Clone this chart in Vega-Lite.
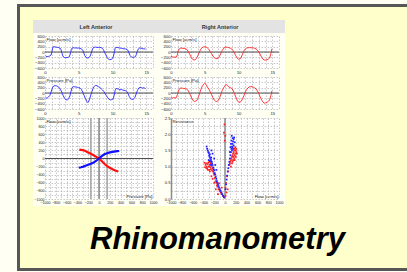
{
"$schema": "https://vega.github.io/schema/vega-lite/v6.json",
"background": "#fffff4",
"padding": {"left": 17, "top": 4, "right": 0, "bottom": 1},
"config": {
  "view": {"stroke": null},
  "concat": {"spacing": 0},
  "axis": {"labelFont": "Liberation Sans", "labelFontSize": 4.2, "labelColor": "#222", "ticks": false, "domain": false, "gridColor": "#b0b0b0", "gridDash": [1.5, 1.5], "gridWidth": 0.7, "labelPadding": 1, "labelOverlap": false, "labelBound": false, "labelFlush": false, "titleFont": "Liberation Sans", "titleFontSize": 4.3, "titleFontWeight": "normal", "titleColor": "#222", "titlePadding": 0},
  "axisX": {"titleAlign": "right", "titleBaseline": "bottom", "titleX": 107, "titleY": -1},
  "axisY": {"titleAngle": 0, "titleAlign": "left", "titleBaseline": "top", "titleX": 1, "titleY": 1}
},
"datasets": {
  "lflow": [{"t":0.1,"v":-150},{"t":0.3,"v":-175},{"t":0.5,"v":-165},{"t":0.7,"v":-150},{"t":0.9,"v":-110},{"t":1.0,"v":-20},{"t":1.1,"v":120},{"t":1.2,"v":190},{"t":1.4,"v":200},{"t":1.6,"v":185},{"t":1.8,"v":175},{"t":2.0,"v":170},{"t":2.2,"v":150},{"t":2.35,"v":100},{"t":2.5,"v":-20},{"t":2.6,"v":-120},{"t":2.75,"v":-190},{"t":2.9,"v":-210},{"t":3.1,"v":-215},{"t":3.3,"v":-205},{"t":3.5,"v":-200},{"t":3.65,"v":-150},{"t":3.8,"v":-20},{"t":3.9,"v":100},{"t":4.0,"v":145},{"t":4.2,"v":160},{"t":4.4,"v":150},{"t":4.6,"v":155},{"t":4.8,"v":145},{"t":5.0,"v":150},{"t":5.2,"v":140},{"t":5.4,"v":120},{"t":5.6,"v":60},{"t":5.75,"v":-40},{"t":5.9,"v":-140},{"t":6.1,"v":-200},{"t":6.3,"v":-225},{"t":6.5,"v":-215},{"t":6.7,"v":-150},{"t":6.85,"v":-40},{"t":7.0,"v":80},{"t":7.15,"v":160},{"t":7.3,"v":180},{"t":7.5,"v":185},{"t":7.7,"v":175},{"t":7.9,"v":170},{"t":8.1,"v":175},{"t":8.3,"v":165},{"t":8.5,"v":140},{"t":8.65,"v":90},{"t":8.8,"v":10},{"t":9.0,"v":-100},{"t":9.2,"v":-200},{"t":9.4,"v":-270},{"t":9.6,"v":-290},{"t":9.8,"v":-280},{"t":10.0,"v":-240},{"t":10.15,"v":-150},{"t":10.3,"v":20},{"t":10.4,"v":140},{"t":10.5,"v":175},{"t":10.7,"v":170},{"t":10.9,"v":160},{"t":11.1,"v":150},{"t":11.3,"v":140},{"t":11.5,"v":130},{"t":11.7,"v":120},{"t":11.9,"v":115},{"t":12.1,"v":100},{"t":12.3,"v":60},{"t":12.45,"v":-40},{"t":12.6,"v":-130},{"t":12.8,"v":-190},{"t":13.0,"v":-200},{"t":13.2,"v":-195},{"t":13.4,"v":-170},{"t":13.55,"v":-80},{"t":13.7,"v":40},{"t":13.85,"v":120},{"t":14.0,"v":145},{"t":14.2,"v":150},{"t":14.4,"v":130},{"t":14.6,"v":120},{"t":14.8,"v":115},{"t":14.9,"v":110}],
  "lpress": [{"t":0.1,"v":-170},{"t":0.3,"v":-200},{"t":0.5,"v":-150},{"t":0.7,"v":-100},{"t":0.85,"v":0},{"t":1.0,"v":120},{"t":1.15,"v":220},{"t":1.3,"v":265},{"t":1.5,"v":275},{"t":1.7,"v":270},{"t":1.9,"v":240},{"t":2.1,"v":200},{"t":2.3,"v":130},{"t":2.5,"v":20},{"t":2.7,"v":-100},{"t":2.9,"v":-200},{"t":3.1,"v":-250},{"t":3.3,"v":-260},{"t":3.5,"v":-220},{"t":3.7,"v":-100},{"t":3.85,"v":60},{"t":4.0,"v":200},{"t":4.2,"v":240},{"t":4.4,"v":230},{"t":4.6,"v":225},{"t":4.8,"v":215},{"t":5.0,"v":200},{"t":5.2,"v":180},{"t":5.4,"v":130},{"t":5.6,"v":30},{"t":5.8,"v":-100},{"t":6.0,"v":-220},{"t":6.2,"v":-320},{"t":6.35,"v":-360},{"t":6.5,"v":-300},{"t":6.7,"v":-150},{"t":6.9,"v":20},{"t":7.1,"v":160},{"t":7.3,"v":250},{"t":7.5,"v":285},{"t":7.7,"v":270},{"t":7.9,"v":240},{"t":8.1,"v":210},{"t":8.3,"v":170},{"t":8.5,"v":120},{"t":8.7,"v":60},{"t":8.9,"v":-20},{"t":9.1,"v":-100},{"t":9.3,"v":-180},{"t":9.5,"v":-240},{"t":9.7,"v":-255},{"t":9.9,"v":-250},{"t":10.1,"v":-220},{"t":10.25,"v":-80},{"t":10.4,"v":100},{"t":10.55,"v":170},{"t":10.7,"v":160},{"t":10.9,"v":150},{"t":11.1,"v":120},{"t":11.3,"v":130},{"t":11.5,"v":110},{"t":11.7,"v":100},{"t":11.9,"v":90},{"t":12.1,"v":60},{"t":12.3,"v":-20},{"t":12.5,"v":-140},{"t":12.7,"v":-220},{"t":12.9,"v":-240},{"t":13.1,"v":-230},{"t":13.3,"v":-180},{"t":13.5,"v":-40},{"t":13.7,"v":100},{"t":13.9,"v":190},{"t":14.1,"v":210},{"t":14.3,"v":200},{"t":14.5,"v":180},{"t":14.7,"v":200},{"t":14.9,"v":150}],
  "rflow": [{"t":0.0,"v":-160},{"t":0.2,"v":-180},{"t":0.4,"v":-190},{"t":0.6,"v":-195},{"t":0.8,"v":-190},{"t":0.95,"v":-100},{"t":1.05,"v":40},{"t":1.2,"v":110},{"t":1.4,"v":140},{"t":1.6,"v":145},{"t":1.8,"v":135},{"t":2.0,"v":130},{"t":2.2,"v":120},{"t":2.4,"v":80},{"t":2.6,"v":0},{"t":2.8,"v":-100},{"t":3.0,"v":-200},{"t":3.2,"v":-270},{"t":3.4,"v":-300},{"t":3.6,"v":-290},{"t":3.8,"v":-230},{"t":4.0,"v":-120},{"t":4.2,"v":0},{"t":4.4,"v":100},{"t":4.6,"v":160},{"t":4.8,"v":190},{"t":5.0,"v":200},{"t":5.2,"v":185},{"t":5.4,"v":150},{"t":5.6,"v":100},{"t":5.8,"v":20},{"t":6.0,"v":-60},{"t":6.2,"v":-150},{"t":6.4,"v":-210},{"t":6.6,"v":-240},{"t":6.8,"v":-250},{"t":7.0,"v":-230},{"t":7.2,"v":-150},{"t":7.4,"v":-40},{"t":7.6,"v":60},{"t":7.8,"v":140},{"t":8.0,"v":175},{"t":8.2,"v":185},{"t":8.4,"v":175},{"t":8.6,"v":160},{"t":8.8,"v":140},{"t":9.0,"v":110},{"t":9.2,"v":50},{"t":9.4,"v":-40},{"t":9.6,"v":-140},{"t":9.8,"v":-230},{"t":10.0,"v":-270},{"t":10.2,"v":-265},{"t":10.4,"v":-200},{"t":10.6,"v":-80},{"t":10.8,"v":40},{"t":11.0,"v":110},{"t":11.2,"v":145},{"t":11.4,"v":160},{"t":11.6,"v":165},{"t":11.8,"v":160},{"t":12.0,"v":160},{"t":12.2,"v":150},{"t":12.4,"v":140},{"t":12.6,"v":120},{"t":12.8,"v":70},{"t":13.0,"v":0},{"t":13.2,"v":-80},{"t":13.4,"v":-180},{"t":13.6,"v":-260},{"t":13.8,"v":-300},{"t":14.0,"v":-300},{"t":14.2,"v":-290},{"t":14.4,"v":-270},{"t":14.6,"v":-230},{"t":14.8,"v":-60},{"t":14.95,"v":120}],
  "rpress": [{"t":0.0,"v":-170},{"t":0.2,"v":-190},{"t":0.4,"v":-175},{"t":0.6,"v":-185},{"t":0.8,"v":-170},{"t":0.95,"v":-60},{"t":1.1,"v":80},{"t":1.3,"v":170},{"t":1.5,"v":190},{"t":1.7,"v":180},{"t":1.9,"v":170},{"t":2.1,"v":160},{"t":2.3,"v":150},{"t":2.5,"v":110},{"t":2.7,"v":20},{"t":2.9,"v":-100},{"t":3.1,"v":-210},{"t":3.3,"v":-290},{"t":3.5,"v":-320},{"t":3.7,"v":-300},{"t":3.9,"v":-250},{"t":4.1,"v":-120},{"t":4.3,"v":40},{"t":4.5,"v":180},{"t":4.7,"v":280},{"t":4.9,"v":350},{"t":5.0,"v":370},{"t":5.2,"v":320},{"t":5.4,"v":220},{"t":5.6,"v":150},{"t":5.8,"v":50},{"t":6.0,"v":-60},{"t":6.2,"v":-170},{"t":6.4,"v":-260},{"t":6.6,"v":-310},{"t":6.8,"v":-320},{"t":7.0,"v":-280},{"t":7.2,"v":-180},{"t":7.4,"v":-40},{"t":7.6,"v":100},{"t":7.8,"v":200},{"t":8.0,"v":280},{"t":8.2,"v":310},{"t":8.4,"v":280},{"t":8.6,"v":220},{"t":8.8,"v":200},{"t":9.0,"v":170},{"t":9.2,"v":100},{"t":9.4,"v":-20},{"t":9.6,"v":-150},{"t":9.8,"v":-270},{"t":10.0,"v":-340},{"t":10.2,"v":-350},{"t":10.4,"v":-310},{"t":10.6,"v":-220},{"t":10.8,"v":-100},{"t":11.0,"v":30},{"t":11.2,"v":130},{"t":11.4,"v":190},{"t":11.6,"v":230},{"t":11.8,"v":240},{"t":12.0,"v":235},{"t":12.2,"v":220},{"t":12.4,"v":190},{"t":12.6,"v":150},{"t":12.8,"v":80},{"t":13.0,"v":-20},{"t":13.2,"v":-140},{"t":13.4,"v":-250},{"t":13.6,"v":-330},{"t":13.8,"v":-380},{"t":14.0,"v":-370},{"t":14.2,"v":-360},{"t":14.4,"v":-320},{"t":14.6,"v":-260},{"t":14.8,"v":-100},{"t":14.95,"v":80}],
  "curves": [{"side":"R","p":-365,"f":220},{"side":"R","p":-300,"f":205},{"side":"R","p":-250,"f":185},{"side":"R","p":-200,"f":150},{"side":"R","p":-150,"f":115},{"side":"R","p":-100,"f":80},{"side":"R","p":-50,"f":40},{"side":"R","p":0,"f":0},{"side":"R","p":50,"f":-60},{"side":"R","p":100,"f":-130},{"side":"R","p":150,"f":-190},{"side":"R","p":200,"f":-230},{"side":"R","p":250,"f":-265},{"side":"R","p":300,"f":-295},{"side":"R","p":357,"f":-322},
    {"side":"L","p":-375,"f":-228},{"side":"L","p":-330,"f":-215},{"side":"L","p":-290,"f":-200},{"side":"L","p":-250,"f":-180},{"side":"L","p":-200,"f":-155},{"side":"L","p":-150,"f":-130},{"side":"L","p":-100,"f":-100},{"side":"L","p":-50,"f":-55},{"side":"L","p":0,"f":0},{"side":"L","p":50,"f":60},{"side":"L","p":100,"f":105},{"side":"L","p":150,"f":130},{"side":"L","p":200,"f":150},{"side":"L","p":250,"f":163},{"side":"L","p":300,"f":175},{"side":"L","p":340,"f":180},{"side":"L","p":375,"f":185}],
  "scatter": [{"side":"R","q":-360,"r":1.05},{"side":"R","q":-350,"r":1.1},{"side":"R","q":-340,"r":1.0},{"side":"R","q":-330,"r":0.95},{"side":"R","q":-320,"r":1.08},{"side":"R","q":-310,"r":1.12},{"side":"R","q":-300,"r":1.0},{"side":"R","q":-295,"r":0.9},{"side":"R","q":-285,"r":1.05},{"side":"R","q":-275,"r":0.98},{"side":"R","q":-270,"r":1.15},{"side":"R","q":-260,"r":0.92},{"side":"R","q":-250,"r":1.02},{"side":"R","q":-240,"r":0.88},{"side":"R","q":-230,"r":0.95},{"side":"R","q":-220,"r":0.85},{"side":"R","q":-210,"r":0.8},{"side":"R","q":-200,"r":0.75},{"side":"R","q":-320,"r":0.9},{"side":"R","q":-345,"r":0.95},{"side":"R","q":-280,"r":0.85},{"side":"R","q":-265,"r":1.1},{"side":"R","q":-300,"r":1.18},{"side":"R","q":-190,"r":0.65},{"side":"R","q":-175,"r":0.55},{"side":"R","q":-160,"r":0.5},{"side":"R","q":-150,"r":0.42},{"side":"R","q":-140,"r":0.38},{"side":"R","q":-120,"r":0.3},{"side":"R","q":-100,"r":0.25},{"side":"R","q":-80,"r":0.2},{"side":"R","q":-60,"r":0.15},{"side":"R","q":-40,"r":0.1},{"side":"R","q":-20,"r":0.05},{"side":"R","q":-170,"r":0.3},{"side":"R","q":-130,"r":0.15},{"side":"R","q":-60,"r":0.35},{"side":"R","q":-200,"r":0.5},{"side":"R","q":80,"r":1.05},{"side":"R","q":90,"r":1.1},{"side":"R","q":100,"r":1.15},{"side":"R","q":110,"r":1.2},{"side":"R","q":120,"r":1.25},{"side":"R","q":130,"r":1.3},{"side":"R","q":140,"r":1.35},{"side":"R","q":150,"r":1.4},{"side":"R","q":160,"r":1.45},{"side":"R","q":170,"r":1.5},{"side":"R","q":180,"r":1.55},{"side":"R","q":190,"r":1.6},{"side":"R","q":200,"r":1.5},{"side":"R","q":210,"r":1.45},{"side":"R","q":220,"r":1.4},{"side":"R","q":160,"r":1.3},{"side":"R","q":170,"r":1.25},{"side":"R","q":180,"r":1.35},{"side":"R","q":190,"r":1.4},{"side":"R","q":150,"r":1.2},{"side":"R","q":140,"r":1.15},{"side":"R","q":200,"r":1.3},{"side":"R","q":130,"r":1.1},{"side":"R","q":110,"r":1.0},{"side":"R","q":210,"r":1.55},{"side":"R","q":180,"r":1.2},{"side":"R","q":60,"r":0.85},{"side":"R","q":40,"r":0.7},{"side":"R","q":20,"r":0.5},{"side":"R","q":10,"r":0.35},{"side":"R","q":30,"r":0.2},{"side":"R","q":50,"r":0.3},{"side":"R","q":-20,"r":2.05},{"side":"R","q":-10,"r":2.3},{"side":"R","q":10,"r":0.1},{"side":"R","q":5,"r":1.95},{"side":"R","q":-5,"r":1.8},{"side":"R","q":-380,"r":1.12},{"side":"R","q":-370,"r":0.98},{"side":"R","q":-250,"r":0.7},{"side":"R","q":-230,"r":0.62},{"side":"R","q":-110,"r":0.48},
    {"side":"L","q":-340,"r":1.62},{"side":"L","q":-330,"r":1.55},{"side":"L","q":-320,"r":1.5},{"side":"L","q":-310,"r":1.45},{"side":"L","q":-300,"r":1.42},{"side":"L","q":-295,"r":1.35},{"side":"L","q":-285,"r":1.3},{"side":"L","q":-280,"r":1.38},{"side":"L","q":-270,"r":1.25},{"side":"L","q":-260,"r":1.2},{"side":"L","q":-255,"r":1.28},{"side":"L","q":-245,"r":1.15},{"side":"L","q":-240,"r":1.1},{"side":"L","q":-230,"r":1.05},{"side":"L","q":-220,"r":0.98},{"side":"L","q":-210,"r":0.92},{"side":"L","q":-200,"r":0.88},{"side":"L","q":-190,"r":0.8},{"side":"L","q":-180,"r":0.75},{"side":"L","q":-170,"r":0.68},{"side":"L","q":-160,"r":0.62},{"side":"L","q":-150,"r":0.55},{"side":"L","q":-140,"r":0.5},{"side":"L","q":-130,"r":0.45},{"side":"L","q":-120,"r":0.4},{"side":"L","q":-110,"r":0.35},{"side":"L","q":-95,"r":0.3},{"side":"L","q":-80,"r":0.25},{"side":"L","q":-65,"r":0.2},{"side":"L","q":-50,"r":0.15},{"side":"L","q":-35,"r":0.1},{"side":"L","q":-20,"r":0.06},{"side":"L","q":-300,"r":1.2},{"side":"L","q":-280,"r":1.15},{"side":"L","q":-260,"r":1.05},{"side":"L","q":-250,"r":1.5},{"side":"L","q":-230,"r":1.4},{"side":"L","q":10,"r":0.3},{"side":"L","q":20,"r":0.45},{"side":"L","q":30,"r":0.6},{"side":"L","q":40,"r":0.72},{"side":"L","q":50,"r":0.85},{"side":"L","q":60,"r":0.95},{"side":"L","q":70,"r":1.05},{"side":"L","q":80,"r":1.15},{"side":"L","q":90,"r":1.25},{"side":"L","q":100,"r":1.35},{"side":"L","q":110,"r":1.45},{"side":"L","q":120,"r":1.55},{"side":"L","q":130,"r":1.62},{"side":"L","q":140,"r":1.7},{"side":"L","q":150,"r":1.78},{"side":"L","q":160,"r":1.85},{"side":"L","q":170,"r":1.9},{"side":"L","q":120,"r":1.8},{"side":"L","q":130,"r":1.5},{"side":"L","q":140,"r":1.6},{"side":"L","q":150,"r":1.55},{"side":"L","q":110,"r":1.7},{"side":"L","q":160,"r":1.65},{"side":"L","q":180,"r":1.75},{"side":"L","q":100,"r":1.6},{"side":"L","q":90,"r":1.45},{"side":"L","q":140,"r":1.88},{"side":"L","q":125,"r":1.95},{"side":"L","q":-200,"r":1.25},{"side":"L","q":-180,"r":1.05},{"side":"L","q":-160,"r":0.9}]
},
"spacing": 0,
"vconcat": [
  {"width":390,"height":3,"view":{"fill":"#575757"},"data":{"values":[]},"mark":"point"},
  {"spacing": 0, "hconcat": [
    {"width":3,"height":261,"view":{"fill":"#575757"},"data":{"values":[]},"mark":"point"},
    {"spacing": 0, "vconcat": [
      {"width":387,"height":13,"view":{"fill":"#ffffcc"},"data":{"values":[]},"mark":"point"},
      {"spacing": 0, "hconcat": [
        {"width":13,"height":186,"view":{"fill":"#ffffcc"},"data":{"values":[]},"mark":"point"},
        {"columns": 5, "spacing": 0, "bounds": "flush", "align": "each", "concat": [
          {"width":12,"height":13,"view":{"fill":"#e3e3e3"},"data":{"values":[]},"mark":"point"},
          {"width":108,"height":13,"view":{"fill":"#e3e3e3"},"data":{"values":[{"label":"Left Anterior"}]},"mark":{"type":"text","font":"Liberation Sans","fontSize":5.5,"fontWeight":"bold","color":"#333","dx":-3},"encoding":{"text":{"field":"label"}}},
          {"width":18,"height":13,"view":{"fill":"#e3e3e3"},"data":{"values":[]},"mark":"point"},
          {"width":108,"height":13,"view":{"fill":"#e3e3e3"},"data":{"values":[{"label":"Right Anterior"}]},"mark":{"type":"text","font":"Liberation Sans","fontSize":5.5,"fontWeight":"bold","color":"#333","dx":-5},"encoding":{"text":{"field":"label"}}},
          {"width":6,"height":13,"view":{"fill":"#e3e3e3"},"data":{"values":[]},"mark":"point"},

          {"width":12,"height":3,"data":{"values":[]},"mark":"point"},
          {"width":108,"height":3,"data":{"values":[]},"mark":"point"},
          {"width":18,"height":3,"data":{"values":[]},"mark":"point"},
          {"width":108,"height":3,"data":{"values":[]},"mark":"point"},
          {"width":6,"height":3,"data":{"values":[]},"mark":"point"},

          {"width":12,"height":32,"data":{"values":[]},"mark":"point"},
          {"width":108,"height":32,"view":{"fill":"white"},"layer":[
            {"data":{"values":[{"z":0}]},"mark":{"type":"rule","color":"#505050","strokeWidth":1},"encoding":{"y":{"field":"z","type":"quantitative","scale":{"domain":[-600,600],"nice":false},"axis":{"values":[-600,-400,-200,0,200,400,600],"tickCount":100,"format":"d","title":"Flow [ccm/s]"}}}},
            {"data":{"name":"lflow"},"mark":{"type":"line","color":"#2424ff","strokeWidth":0.9},"encoding":{
              "x":{"field":"t","type":"quantitative","scale":{"domain":[0,16],"nice":false},"axis":{"values":[0,1,2,3,4,5,6,7,8,9,10,11,12,13,14,15,16],"tickCount":100,"format":"d","labelPadding":2.5,"labelExpr":"datum.value % 5 === 0 ? datum.label : ''","title":null}},
              "y":{"field":"v","type":"quantitative"}}}
          ]},
          {"width":18,"height":32,"data":{"values":[]},"mark":"point"},
          {"width":108,"height":32,"view":{"fill":"white"},"layer":[
            {"data":{"values":[{"z":0}]},"mark":{"type":"rule","color":"#505050","strokeWidth":1},"encoding":{"y":{"field":"z","type":"quantitative","scale":{"domain":[-600,600],"nice":false},"axis":{"values":[-600,-400,-200,0,200,400,600],"tickCount":100,"format":"d","title":"Flow [ccm/s]"}}}},
            {"data":{"name":"rflow"},"mark":{"type":"line","color":"#ff2424","strokeWidth":0.9},"encoding":{
              "x":{"field":"t","type":"quantitative","scale":{"domain":[0,16],"nice":false},"axis":{"values":[0,1,2,3,4,5,6,7,8,9,10,11,12,13,14,15,16],"tickCount":100,"format":"d","labelPadding":2.5,"labelExpr":"datum.value % 5 === 0 ? datum.label : ''","title":null}},
              "y":{"field":"v","type":"quantitative"}}}
          ]},
          {"width":6,"height":32,"data":{"values":[]},"mark":"point"},

          {"width":12,"height":9,"data":{"values":[]},"mark":"point"},
          {"width":108,"height":9,"data":{"values":[]},"mark":"point"},
          {"width":18,"height":9,"data":{"values":[]},"mark":"point"},
          {"width":108,"height":9,"data":{"values":[]},"mark":"point"},
          {"width":6,"height":9,"data":{"values":[]},"mark":"point"},

          {"width":12,"height":32,"data":{"values":[]},"mark":"point"},
          {"width":108,"height":32,"view":{"fill":"white"},"layer":[
            {"data":{"values":[{"z":0}]},"mark":{"type":"rule","color":"#505050","strokeWidth":1},"encoding":{"y":{"field":"z","type":"quantitative","scale":{"domain":[-600,600],"nice":false},"axis":{"values":[-600,-400,-200,0,200,400,600],"tickCount":100,"format":"d","title":"Pressure [Pa]"}}}},
            {"data":{"name":"lpress"},"mark":{"type":"line","color":"#2424ff","strokeWidth":0.9},"encoding":{
              "x":{"field":"t","type":"quantitative","scale":{"domain":[0,16],"nice":false},"axis":{"values":[0,1,2,3,4,5,6,7,8,9,10,11,12,13,14,15,16],"tickCount":100,"format":"d","labelPadding":2.5,"labelExpr":"datum.value % 5 === 0 ? datum.label : ''","title":null}},
              "y":{"field":"v","type":"quantitative"}}}
          ]},
          {"width":18,"height":32,"data":{"values":[]},"mark":"point"},
          {"width":108,"height":32,"view":{"fill":"white"},"layer":[
            {"data":{"values":[{"z":0}]},"mark":{"type":"rule","color":"#505050","strokeWidth":1},"encoding":{"y":{"field":"z","type":"quantitative","scale":{"domain":[-600,600],"nice":false},"axis":{"values":[-600,-400,-200,0,200,400,600],"tickCount":100,"format":"d","title":"Pressure [Pa]"}}}},
            {"data":{"name":"rpress"},"mark":{"type":"line","color":"#ff2424","strokeWidth":0.9},"encoding":{
              "x":{"field":"t","type":"quantitative","scale":{"domain":[0,16],"nice":false},"axis":{"values":[0,1,2,3,4,5,6,7,8,9,10,11,12,13,14,15,16],"tickCount":100,"format":"d","labelPadding":2.5,"labelExpr":"datum.value % 5 === 0 ? datum.label : ''","title":null}},
              "y":{"field":"v","type":"quantitative"}}}
          ]},
          {"width":6,"height":32,"data":{"values":[]},"mark":"point"},

          {"width":12,"height":9,"data":{"values":[]},"mark":"point"},
          {"width":108,"height":9,"data":{"values":[]},"mark":"point"},
          {"width":18,"height":9,"data":{"values":[]},"mark":"point"},
          {"width":108,"height":9,"data":{"values":[]},"mark":"point"},
          {"width":6,"height":9,"data":{"values":[]},"mark":"point"},

          {"width":12,"height":81,"data":{"values":[]},"mark":"point"},
          {"width":108,"height":81,"view":{"fill":"white"},"layer":[
            {"data":{"values":[{"p":-150},{"p":150}]},"mark":{"type":"rule","color":"#a0a0a0","strokeWidth":1.5},"encoding":{"x":{"field":"p","type":"quantitative","scale":{"domain":[-1000,1000],"nice":false},"axis":{"values":[-1000,-900,-800,-700,-600,-500,-400,-300,-200,-100,0,100,200,300,400,500,600,700,800,900,1000],"tickCount":100,"format":"d","labelFontSize":3.6,"labelPadding":1.5,"labelExpr":"datum.value % 200 === 0 ? datum.label : ''","title":"Pressure [Pa]"}}}},
            {"data":{"values":[{"p":0}]},"mark":{"type":"rule","color":"#505050","strokeWidth":1},"encoding":{"x":{"field":"p","type":"quantitative"}}},
            {"data":{"values":[{"f":0}]},"mark":{"type":"rule","color":"#505050","strokeWidth":1},"encoding":{"y":{"field":"f","type":"quantitative","scale":{"domain":[-1000,1000],"nice":false},"axis":{"values":[-1000,-900,-800,-700,-600,-500,-400,-300,-200,-100,0,100,200,300,400,500,600,700,800,900,1000],"tickCount":100,"format":"d","labelFontSize":3.6,"labelExpr":"datum.value % 200 === 0 ? datum.label : ''","title":"Flow [ccm/s]"}}}},
            {"data":{"name":"curves"},"transform":[{"filter":"datum.side === 'R'"}],"mark":{"type":"line","color":"#ff1010","strokeWidth":2.2},"encoding":{
              "x":{"field":"p","type":"quantitative"},
              "y":{"field":"f","type":"quantitative"}}},
            {"data":{"name":"curves"},"transform":[{"filter":"datum.side === 'L'"}],"mark":{"type":"line","color":"#1010ff","strokeWidth":2.2},"encoding":{
              "x":{"field":"p","type":"quantitative"},
              "y":{"field":"f","type":"quantitative"}}}
          ]},
          {"width":18,"height":81,"data":{"values":[]},"mark":"point"},
          {"width":108,"height":81,"view":{"fill":"white"},"layer":[
            {"data":{"values":[{"q":0}]},"mark":{"type":"rule","color":"#8a8a8a","strokeWidth":1.5},"encoding":{"x":{"field":"q","type":"quantitative","scale":{"domain":[-1000,1000],"nice":false},"axis":{"values":[-1000,-900,-800,-700,-600,-500,-400,-300,-200,-100,0,100,200,300,400,500,600,700,800,900,1000],"tickCount":100,"format":"d","labelFontSize":3.6,"labelPadding":1.5,"labelExpr":"datum.value % 200 === 0 ? datum.label : ''","title":"Flow [ccm/s]"}}}},
            {"data":{"name":"scatter"},"mark":{"type":"square","size":3,"opacity":1,"filled":true},"encoding":{
              "x":{"field":"q","type":"quantitative"},
              "y":{"field":"r","type":"quantitative","scale":{"domain":[0,2.5],"nice":false},"axis":{"values":[0,0.25,0.5,0.75,1,1.25,1.5,1.75,2,2.25,2.5],"tickCount":100,"labelExpr":"(datum.value * 4) % 2 === 0 ? format(datum.value, '.1f') : ''","domain":true,"domainColor":"#8a8a8a","domainWidth":1.5,"title":"Resistance"}},
              "color":{"field":"side","type":"nominal","scale":{"domain":["R","L"],"range":["#ff2020","#2020ff"]},"legend":null}}}
          ]},
          {"width":6,"height":81,"data":{"values":[]},"mark":"point"},

          {"width":12,"height":7,"data":{"values":[]},"mark":"point"},
          {"width":108,"height":7,"data":{"values":[]},"mark":"point"},
          {"width":18,"height":7,"data":{"values":[]},"mark":"point"},
          {"width":108,"height":7,"data":{"values":[]},"mark":"point"},
          {"width":6,"height":7,"data":{"values":[]},"mark":"point"}
        ]},
        {"width":122,"height":186,"view":{"fill":"#ffffcc"},"data":{"values":[]},"mark":"point"}
      ]},
      {"width":387,"height":62,"view":{"fill":"#ffffcc"},"data":{"values":[{"label":"Rhinomanometry"}]},"mark":{"type":"text","font":"Liberation Sans","fontSize":31,"fontWeight":"bold","fontStyle":"italic","color":"#000","align":"center","baseline":"middle","dx":4,"dy":3},"encoding":{"text":{"field":"label"}}}
    ]}
  ]},
  {"width":390,"height":3,"view":{"fill":"#575757"},"data":{"values":[]},"mark":"point"}
]
}
